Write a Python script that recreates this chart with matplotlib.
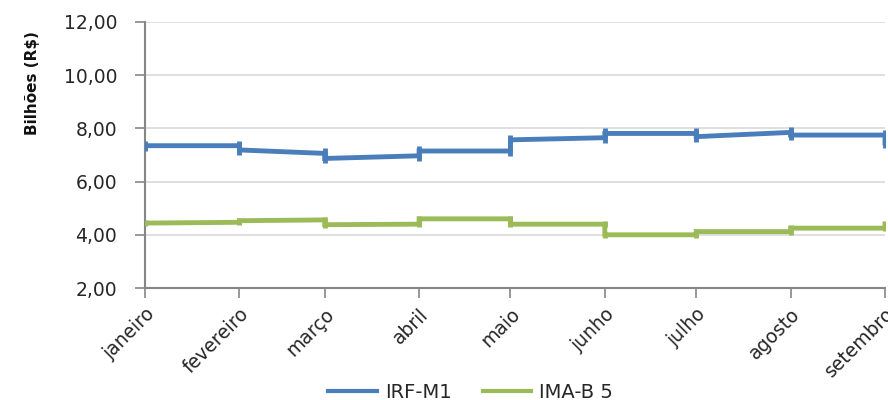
import matplotlib
matplotlib.use("Agg")
import matplotlib.pyplot as plt
import pandas as pd
import numpy as np

months = ['janeiro', 'fevereiro', 'março', 'abril', 'maio', 'junho', 'julho', 'agosto', 'setembro']
month_starts = pd.date_range('2013-01-01', '2013-09-01', freq='MS')

# value on first day of each month (last entry: setembro) and on last day of Jan..Aug
irf_start = [7.35, 7.19, 6.87, 7.15, 7.57, 7.81, 7.69, 7.75, 7.45]
irf_end = [7.35, 7.06, 6.97, 7.15, 7.65, 7.81, 7.85, 7.75]
ima_start = [4.44, 4.53, 4.38, 4.60, 4.40, 4.00, 4.12, 4.25, 4.40]
ima_end = [4.47, 4.56, 4.40, 4.60, 4.40, 4.00, 4.12, 4.25]

yticks = [2, 4, 6, 8, 10, 12]
ytick_labels = ['2,00', '4,00', '6,00', '8,00', '10,00', '12,00']


def build_path(starts, ends):
    xs, ys = [], []
    for i in range(len(ends)):
        xs += [month_starts[i], month_starts[i + 1]]
        ys += [starts[i], ends[i]]
    xs.append(month_starts[-1])
    ys.append(starts[-1])
    return xs, ys


plt.rcParams['font.family'] = ['DejaVu Sans']
fig = plt.figure(figsize=(8.88, 4.0), dpi=100)
ax = fig.add_axes([145 / 888, 112 / 400, (885 - 145) / 888, (288 - 22) / 400])

blue = '#4a7ebb'
green = '#9bbb59'
x1, y1 = build_path(irf_start, irf_end)
x2, y2 = build_path(ima_start, ima_end)
ax.plot(x1, y1, color=blue, lw=3.5, marker='|', ms=7, mew=3.5, label='IRF-M1',
        solid_joinstyle='miter', zorder=3)
ax.plot(x2, y2, color=green, lw=3.5, marker='|', ms=5, mew=3.5, label='IMA-B 5',
        solid_joinstyle='miter', zorder=3)

ax.set_ylim(2, 12)
ax.set_xlim(month_starts[0], month_starts[-1])
ax.set_yticks(yticks)
ax.set_yticklabels(ytick_labels)
ax.set_xticks(month_starts)
ax.set_xticklabels(months, rotation=45, ha='right', va='top', rotation_mode='anchor')

ax.grid(axis='y', color='#d9d9d9', lw=1.2)
ax.set_axisbelow(True)
for s in ['top', 'right']:
    ax.spines[s].set_visible(False)
for s in ['left', 'bottom']:
    ax.spines[s].set_color('#868686')
    ax.spines[s].set_linewidth(1.5)
ax.tick_params(axis='both', direction='out', length=7, width=1.2, color='#868686',
               labelsize=13.5, labelcolor='#262626')
ax.tick_params(axis='y', pad=13)
ax.tick_params(axis='x', pad=5)

ax.set_ylabel('Bilhões (R$)', fontsize=11, fontweight='bold', color='#111111')
ax.yaxis.set_label_coords(-0.142, 0.77)

leg = fig.legend(loc='center', bbox_to_anchor=(0.53, 0.02), ncol=2, frameon=False,
                 fontsize=14, handlelength=2.5, columnspacing=1.6, handletextpad=0.4)
for h in leg.legend_handles:
    h.set_marker('')
    h.set_linewidth(3)
for t in leg.get_texts():
    t.set_color('#262626')

fig.savefig('out.png', dpi=100)
